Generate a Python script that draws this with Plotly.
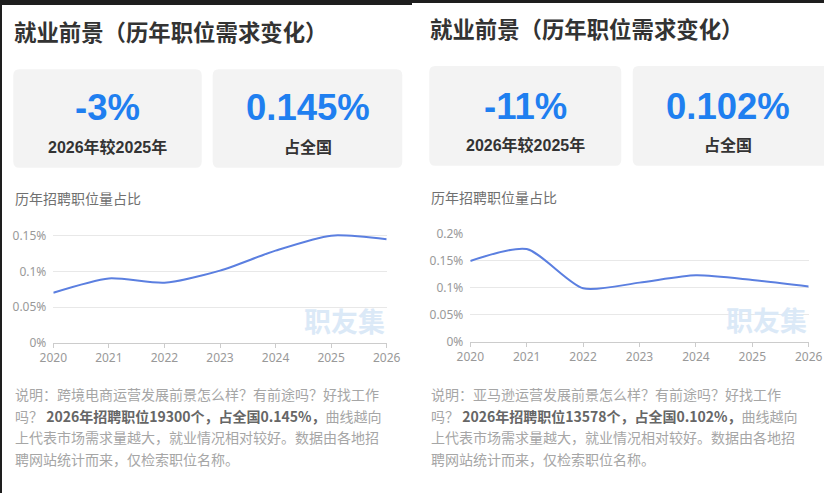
import plotly.graph_objects as go

# chart data
years = [2020, 2021, 2022, 2023, 2024, 2025, 2026]
left_share = [0.070, 0.090, 0.084, 0.101, 0.129, 0.150, 0.145]
right_share = [0.149, 0.171, 0.0985, 0.109, 0.1225, 0.114, 0.102]

left_yticks = [0, 0.05, 0.1, 0.15]
left_ylabels = ['0%', '0.05%', '0.1%', '0.15%']
right_yticks = [0, 0.05, 0.1, 0.15, 0.2]
right_ylabels = ['0%', '0.05%', '0.1%', '0.15%', '0.2%']

title_text = '就业前景（历年职位需求变化）'
chart_caption = '历年招聘职位量占比'
watermark = '职友集'
left_stats = ['-3%', '0.145%']
right_stats = ['-11%', '0.102%']
stat_labels = ['2026年较2025年', '占全国']

left_notes = [
    '说明：跨境电商运营发展前景怎么样？有前途吗？好找工作',
    '吗？ <span style="color:#666"><b>2026年招聘职位19300个，占全国0.145%，</b></span>曲线越向',
    '上代表市场需求量越大，就业情况相对较好。数据由各地招',
    '聘网站统计而来，仅检索职位名称。',
]
right_notes = [
    '说明：亚马逊运营发展前景怎么样？有前途吗？好找工作',
    '吗？ <span style="color:#666"><b>2026年招聘职位13578个，占全国0.102%，</b></span>曲线越向',
    '上代表市场需求量越大，就业情况相对较好。数据由各地招',
    '聘网站统计而来，仅检索职位名称。',
]

W, H = 824, 493
FONT = 'Liberation Sans, Noto Sans CJK SC, sans-serif'
NOTE_FONT = 'Noto Sans CJK SC, sans-serif'
LINE = '#5b7fe0'


def px(x):
    return x / W


def py(y):
    return 1 - y / H


def rrect(x0, y0, x1, y1, r=6):
    # rounded rectangle path in paper coords, input in pixels
    pts = [
        ('M', [(x0 + r, y0)]), ('L', [(x1 - r, y0)]), ('Q', [(x1, y0), (x1, y0 + r)]),
        ('L', [(x1, y1 - r)]), ('Q', [(x1, y1), (x1 - r, y1)]),
        ('L', [(x0 + r, y1)]), ('Q', [(x0, y1), (x0, y1 - r)]),
        ('L', [(x0, y0 + r)]), ('Q', [(x0, y0), (x0 + r, y0)]),
    ]
    s = ''
    for cmd, coords in pts:
        s += cmd + ' ' + ' '.join(f'{px(a):.5f},{py(b):.5f}' for a, b in coords) + ' '
    return s + 'Z'


fig = go.Figure()
fig.add_trace(go.Scatter(x=years, y=left_share, mode='lines', xaxis='x', yaxis='y',
                         line=dict(color=LINE, width=2, shape='spline', smoothing=0.7),
                         hoverinfo='skip'))
fig.add_trace(go.Scatter(x=years, y=right_share, mode='lines', xaxis='x2', yaxis='y2',
                         line=dict(color=LINE, width=2, shape='spline', smoothing=0.7),
                         hoverinfo='skip'))

xax = dict(range=[2020, 2026], tickvals=years, showgrid=False, zeroline=False,
           showline=True, linecolor='#cccccc', linewidth=1, ticks='outside', ticklen=4,
           tickcolor='#cccccc', tickfont=dict(family='Noto Sans', size=12, color='#999999'),
           automargin=False, fixedrange=True)
yax = dict(showgrid=True, gridcolor='#e8e8e8', gridwidth=1, zeroline=False, showline=False,
           tickfont=dict(family='Noto Sans', size=12, color='#999999'), ticklabelstandoff=6,
           automargin=False, fixedrange=True)

fig.update_layout(
    width=W, height=H, margin=dict(l=0, r=0, t=0, b=0, autoexpand=False),
    paper_bgcolor='white', plot_bgcolor='white', showlegend=False,
    xaxis=dict(xax, domain=[px(53.3), px(386.7)], anchor='y'),
    yaxis=dict(yax, domain=[py(342.7), py(228.5)], range=[0, 0.16], anchor='x',
               tickvals=left_yticks, ticktext=left_ylabels),
    xaxis2=dict(xax, domain=[px(470.3), px(808.7)], anchor='y2'),
    yaxis2=dict(yax, domain=[py(341.7), py(233.3)], range=[0, 0.2], anchor='x2',
                tickvals=right_yticks, ticktext=right_ylabels),
)

shapes = [
    # stat boxes
    dict(type='path', path=rrect(13.3, 69.3, 201.7, 167.7), fillcolor='#f3f3f3', line=dict(width=0), layer='below'),
    dict(type='path', path=rrect(212.7, 69.3, 402.3, 167.7), fillcolor='#f3f3f3', line=dict(width=0), layer='below'),
    dict(type='path', path=rrect(429.3, 66, 621.3, 165.7), fillcolor='#f3f3f3', line=dict(width=0), layer='below'),
    dict(type='path', path=rrect(632.7, 66, 830, 165.7), fillcolor='#f3f3f3', line=dict(width=0), layer='below'),
    # dark screenshot edges
    dict(type='rect', x0=0, x1=px(412), y0=py(5), y1=1, fillcolor='#1e1e1e', line=dict(width=0)),
    dict(type='rect', x0=px(412), x1=1, y0=py(3), y1=1, fillcolor='#1e1e1e', line=dict(width=0)),
    dict(type='rect', x0=0, x1=px(2), y0=0, y1=1, fillcolor='#1e1e1e', line=dict(width=0)),
]
for s in shapes:
    s['xref'] = 'paper'
    s['yref'] = 'paper'
fig.update_layout(shapes=shapes)


def ann(text, x, y, size, color, xanchor='left', bold=False, family=FONT):
    if bold:
        text = f'<b>{text}</b>'
    fig.add_annotation(text=text, x=px(x), y=py(y), xref='paper', yref='paper',
                       xanchor=xanchor, yanchor='middle', showarrow=False,
                       font=dict(family=family, size=size, color=color))


panels = [
    dict(x=13, ty=33, box=(13.3, 201.7, 212.7, 402.3), num_y=108, lab_y=147,
         stats=left_stats, cap_y=199, wm=(386.7, 323), notes=left_notes),
    dict(x=429, ty=30, box=(429.3, 621.3, 632.7, 823.7), num_y=106, lab_y=145,
         stats=right_stats, cap_y=198, wm=(808.7, 322), notes=right_notes),
]
for p in panels:
    ann(title_text, p['x'] - 1, p['ty'], 22.4, '#333333', bold=True)
    b = p['box']
    c1 = (b[0] + b[1]) / 2
    c2 = (b[2] + b[3]) / 2
    ann(p['stats'][0], c1, p['num_y'], 36.5, '#1f7ff0', 'center', True)
    ann(p['stats'][1], c2, p['num_y'], 36.5, '#1f7ff0', 'center', True)
    ann(stat_labels[0], c1, p['lab_y'], 16, '#333333', 'center', True)
    ann(stat_labels[1], c2, p['lab_y'], 16, '#333333', 'center', True)
    ann(chart_caption, p['x'], p['cap_y'], 14, '#707070')
    ann(f'<b>{watermark}</b>', p['wm'][0], p['wm'][1], 27, '#dbe9f7', 'right')
    for i, line in enumerate(p['notes']):
        ann(line, p['x'], 394 + i * 21.5, 14, '#a6a6a6', family=NOTE_FONT)

# page body has a default margin; drop it so the figure sits at the window corner
fig.write_html('out.html', config={'displayModeBar': False},
               post_script="document.body.style.margin='0';document.body.style.overflow='hidden';")
